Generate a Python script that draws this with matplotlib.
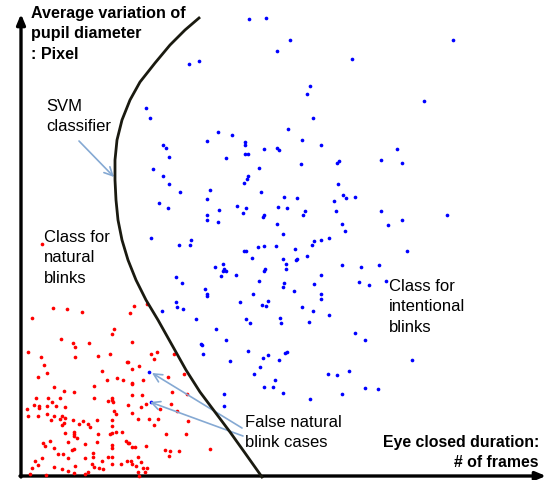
import numpy as np
import matplotlib.pyplot as plt

plt.rcParams['font.family'] = ['Liberation Sans', 'DejaVu Sans']

# points (pixel-like units, y grows downward)
blue_x = [249, 266, 290, 277, 189, 199, 310, 307, 146, 150, 313, 288, 218, 232, 207, 302,
          453, 352, 424,
          245, 245, 321, 163, 166, 264, 277, 279, 169, 226, 245, 248, 301, 153, 259, 163, 248,
          247, 244, 169, 180, 210, 261, 207, 284, 297, 159, 168, 237, 246, 278, 287, 219, 305,
          303, 207, 207, 243, 264, 263, 218, 277, 283, 151, 191, 179, 190, 314, 321, 329, 312,
          244, 246, 258, 264, 276, 295, 252, 283, 297, 307, 223, 215, 224, 286, 286, 265,
          397, 381, 402, 339, 337, 338, 343, 346, 355, 334, 336, 381, 447, 402, 388, 342, 345,
          407, 342, 361, 379,
          223, 226, 221, 236, 264, 296, 176, 182, 259, 284, 283, 321, 314, 205, 207, 207, 253,
          294, 321, 321, 268, 176, 177, 183, 162, 240, 262, 266, 302, 313, 329, 196, 246, 250,
          280, 281, 309, 216, 226, 201, 203, 248, 285, 287, 268, 263, 279, 230, 260, 254, 328,
          149, 275, 273, 264, 224, 283, 310,
          359, 369, 386, 355, 365, 412, 337, 349, 365, 378, 342,
          224, 202, 151]
blue_y = [19, 18, 40, 51, 64, 61, 86, 94, 108, 118, 118, 129, 132, 135, 141, 140,
          40, 59, 101,
          142, 145, 145, 145, 148, 149, 148, 150, 157, 158, 154, 154, 164, 169, 168, 176, 176,
          179, 183, 184, 192, 190, 192, 199, 197, 198, 203, 208, 206, 208, 207, 208, 210, 211,
          215, 215, 220, 213, 215, 217, 222, 224, 234, 238, 240, 245, 245, 241, 240, 238, 245,
          251, 251, 247, 246, 246, 249, 258, 259, 259, 256, 264, 267, 269, 264, 269, 269,
          149, 160, 163, 161, 163, 184, 195, 198, 197, 201, 211, 211, 215, 220, 225, 224, 231,
          251, 265, 267, 265,
          271, 271, 276, 275, 271, 260, 277, 283, 281, 283, 287, 275, 284, 289, 294, 296, 294,
          291, 294, 299, 301, 302, 307, 309, 311, 302, 305, 306, 307, 311, 315, 319, 319, 323,
          318, 323, 322, 329, 340, 344, 354, 351, 353, 352, 355, 358, 360, 361, 367, 374, 374,
          372, 380, 387, 387, 394, 393, 399,
          282, 285, 281, 333, 340, 360, 375, 371, 388, 389, 394,
          406, 345, 402]

red_x = [42, 53, 67, 82, 32, 134, 147, 130, 114, 112, 61, 73, 75, 89, 132,
         28, 75, 41, 98, 110, 128, 44, 132, 102, 47, 38, 107, 117, 123, 132, 54, 94, 64, 74,
         132, 36, 48, 60, 94, 112, 112, 108, 113, 52, 34, 39, 47, 56, 65, 27, 39, 47, 38, 28,
         54, 62, 65, 51, 60, 73, 83, 64, 62, 79, 88, 90, 97, 114, 116, 112, 112, 116, 112, 110,
         122, 65, 74, 74, 74, 77, 98, 126, 128, 43, 45, 50, 68, 85, 97, 112, 112, 54, 74, 72,
         58, 63, 93, 93, 108, 112, 42, 68, 85, 102, 92, 35, 38, 32, 54, 75, 94, 112, 121, 131,
         132, 62, 68, 74, 85, 88, 99, 103, 46, 30,
         151, 157, 154, 174, 127, 139, 143, 168, 184, 132, 142, 187, 172, 128, 141, 146, 171,
         160, 177, 132, 138, 149, 158, 188, 154, 166, 186, 129, 132, 135, 146, 165, 170, 179,
         210, 169, 138, 127, 136, 141, 143, 147, 138, 145, 139]
red_y = [244, 308, 309, 312, 318, 306, 304, 313, 329, 334, 339, 343, 347, 343, 342,
         352, 357, 357, 356, 354, 362, 365, 369, 371, 373, 377, 380, 378, 380, 384, 387, 386,
         391, 392, 395, 398, 398, 398, 398, 398, 400, 401, 402, 402, 405, 406, 406, 406, 407,
         409, 408, 414, 416, 416, 416, 416, 418, 420, 419, 420, 421, 423, 425, 424, 424, 427,
         420, 411, 414, 420, 426, 432, 433, 434, 432, 433, 432, 434, 436, 438, 434, 441, 443,
         443, 446, 441, 442, 444, 442, 445, 448, 448, 449, 450, 454, 454, 453, 457, 457, 457,
         458, 458, 458, 461, 464, 461, 465, 468, 467, 466, 467, 464, 464, 461, 464, 469, 471,
         473, 474, 472, 468, 469, 475, 474,
         354, 352, 359, 354, 362, 366, 380, 377, 374, 383, 395, 394, 392, 405, 407, 404, 404,
         409, 411, 413, 419, 419, 419, 421, 425, 434, 434, 443, 447, 447, 446, 450, 451, 451,
         449, 456, 457, 461, 466, 462, 468, 468, 472, 472, 476]

# SVM boundary
svm_x = [199, 185, 170, 155, 140, 130, 122, 117, 115, 115, 116, 118, 122, 128, 136, 146,
         158, 172, 186, 200, 215, 230, 245, 262]
svm_y = [18, 30, 45, 63, 82, 100, 120, 140, 160, 180, 200, 220, 240, 260, 280, 300,
         320, 345, 370, 392, 412, 432, 453, 477]

fig = plt.figure(figsize=(5.53, 4.80), dpi=100)
ax = fig.add_axes([0, 0, 1, 1])
ax.set_xlim(0, 553)
ax.set_ylim(480, 0)
ax.axis('off')

# axes with arrow heads
ax.annotate('', xy=(21, 14), xytext=(21, 477),
            arrowprops=dict(arrowstyle='-|>,head_length=0.6,head_width=0.25', lw=2.4, color='black',
                            shrinkA=0, shrinkB=0))
ax.annotate('', xy=(546, 476), xytext=(20, 476),
            arrowprops=dict(arrowstyle='-|>,head_length=0.6,head_width=0.25', lw=2.4, color='black',
                            shrinkA=0, shrinkB=0))

ax.scatter(blue_x, blue_y, s=7, c='#0000ff', linewidths=0, zorder=3)
ax.scatter(red_x, red_y, s=7, c='#ff0000', linewidths=0, zorder=3)

ax.plot(svm_x, svm_y, color='#1a1a10', lw=2.0, zorder=4)

arrow_col = '#85a9d3'
ap = dict(arrowstyle='->,head_length=0.6,head_width=0.3', lw=1.2, color=arrow_col,
          shrinkA=0, shrinkB=0)
ax.annotate('', xy=(114, 177), xytext=(79, 141), arrowprops=ap)
ax.annotate('', xy=(152, 373), xytext=(242, 428), arrowprops=ap)
ax.annotate('', xy=(150, 402), xytext=(243, 436), arrowprops=ap)

ax.text(31, 6, 'Average variation of\npupil diameter\n: Pixel', fontsize=11.6,
        fontweight='bold', va='top', ha='left', linespacing=1.45)
ax.text(46, 99, 'SVM\nclassifier', fontsize=12, va='top', ha='left', linespacing=1.4)
ax.text(44, 230, 'Class for\nnatural\nblinks', fontsize=12, va='top', ha='left', linespacing=1.45)
ax.text(389, 279, 'Class for\nintentional\nblinks', fontsize=12, va='top', ha='left', linespacing=1.45)
ax.text(245, 415, 'False natural\nblink cases', fontsize=12, va='top', ha='left', linespacing=1.4)
ax.text(539, 435, 'Eye closed duration:\n# of frames', fontsize=11.4, fontweight='bold',
        va='top', ha='right', linespacing=1.4)

fig.savefig('out.png', dpi=100)
